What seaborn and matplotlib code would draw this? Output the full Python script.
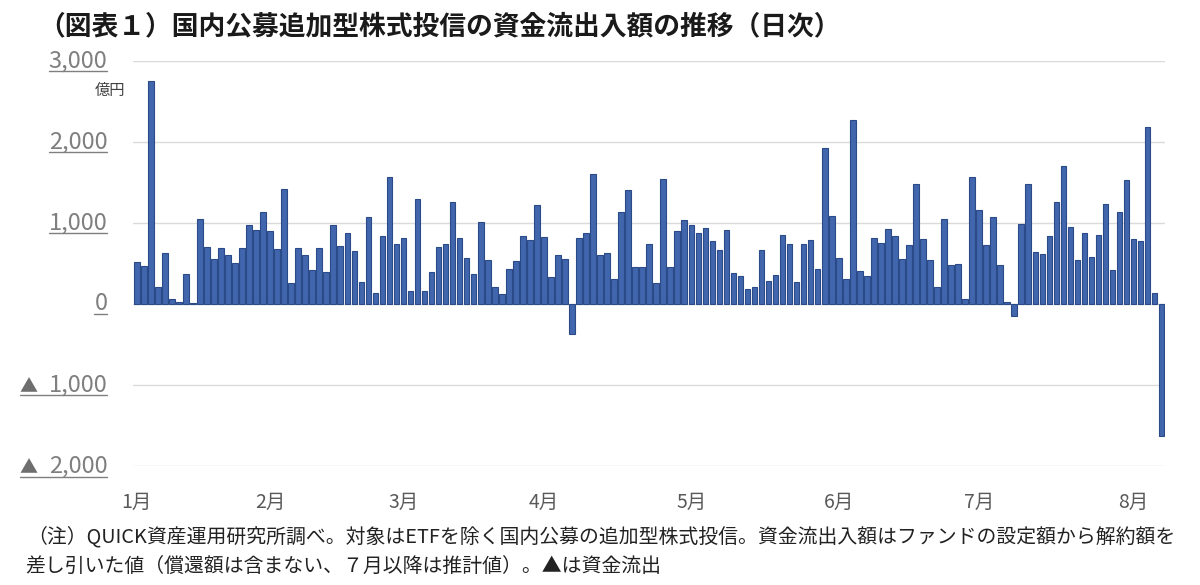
import numpy as np
import pandas as pd
import matplotlib
matplotlib.use("Agg")
import matplotlib.pyplot as plt
from matplotlib.lines import Line2D
import seaborn as sns

# ---- data ----
month_labels = ["1月", "2月", "3月", "4月", "5月", "6月", "7月", "8月"]
month_trading_days = [19, 19, 20, 21, 21, 20, 22, 5]

flows = [
    518, 469, 2754, 205, 633, 66, 20, 374, 5, 1052, 699, 551, 686, 600, 501, 686,
    970, 912, 1138, 900, 674, 1422, 263, 695, 600, 419, 695, 395, 970, 711, 871,
    649, 275, 1069,
    132, 843, 1562, 736, 810, 164, 1295, 164, 390, 699, 740, 1262, 810, 571, 374,
    1011, 543, 205, 119, 436, 526, 843, 785, 1221, 822, 329, 600, 559, -370, 810,
    871, 1603, 600, 629, 312, 1138, 1406,
    456, 456, 740, 255, 1545, 456, 900, 1036, 970, 871, 933, 781, 666, 908, 386,
    341, 189, 214, 670, 288, 353, 855, 740, 271, 740, 793, 432, 1928, 1081, 567,
    312, 2269, 403, 341, 810,
    756, 921, 843, 559, 727, 1476, 797, 543, 205, 1048, 481, 497, 58, 1562, 1159,
    727, 1069, 481, 29, -148, 986, 1476, 637, 612, 843, 1262, 1702, 949, 543, 880,
    584, 855, 1237, 415, 1138, 1533, 797, 773, 2182, 140, -1628,
]

y_ticks = [-2000, -1000, 0, 1000, 2000, 3000]
y_tick_numbers = ["2,000", "1,000", "0", "1,000", "2,000", "3,000"]
y_tick_negative = [True, True, False, False, False, False]

title = "（図表１）国内公募追加型株式投信の資金流出入額の推移（日次）"
unit = "億円"
note1 = "（注）QUICK資産運用研究所調べ。対象はETFを除く国内公募の追加型株式投信。資金流出入額はファンドの設定額から解約額を"
note2 = "差し引いた値（償還額は含まない、７月以降は推計値）。▲は資金流出"

# ---- frame ----
df = pd.DataFrame({"day": np.arange(len(flows)), "flow": flows})
month_start = np.concatenate([[0], np.cumsum(month_trading_days)[:-1]])

sns.set_theme(style="white")
plt.rcParams["font.family"] = ["Noto Sans CJK JP", "DejaVu Sans"]

fig = plt.figure(figsize=(12, 5.85), dpi=100)
ax = fig.add_axes([0.111, 0.2034, 0.860, 0.6928])

sns.barplot(data=df, x="day", y="flow", color="#4266AD", saturation=1,
            width=0.8, edgecolor="#2A4A88", linewidth=0.8, ax=ax)

ax.set_xlim(-0.5, len(flows) - 0.5)
ax.set_ylim(-2000, 3000)
ax.set_yticks(y_ticks)
ax.set_yticklabels([])
ax.set_xticks(month_start)
ax.set_xticklabels(month_labels)
ax.set_xlabel("")
ax.set_ylabel("")

ax.yaxis.grid(True, color="#DADADA", linewidth=1.0)
ax.set_axisbelow(True)
for s in ax.spines.values():
    s.set_visible(False)

ax.tick_params(axis="y", length=0)
ax.tick_params(axis="x", length=0, pad=19, labelsize=14, labelcolor="#595959")

# y tick labels: number (underlined) with a smaller ▲ for negatives
label_color = "#7F7F7F"
trans = ax.get_yaxis_transform()
num_texts = []
for val, num, neg in zip(y_ticks, y_tick_numbers, y_tick_negative):
    t = ax.text(-0.025, val, num, transform=trans, ha="right", va="center",
                fontsize=17, color=label_color)
    num_texts.append((t, neg))

fig.text(0.032, 0.955, title, fontsize=19.3, fontweight="bold", color="#1A1A1A",
         ha="left", va="center")
fig.text(0.104, 0.846, unit, fontsize=11, color="#404040", ha="right", va="center")
fig.text(0.023, 0.082, note1, fontsize=14.3, color="#222222", ha="left", va="center")
fig.text(0.021, 0.032, note2, fontsize=14.3, color="#222222", ha="left", va="center")

fig.canvas.draw()
inv = fig.transFigure.inverted()
for t, neg in num_texts:
    bb = t.get_window_extent()
    x_left = bb.x0
    if neg:
        tri = fig.text(0, 0, "▲", fontsize=13, color="#6E6E6E", ha="right",
                       va="baseline")
        (fx, fy), = inv.transform([(bb.x0 - 11, bb.y0 + 4)])
        tri.set_position((fx, fy))
        fig.canvas.draw()
        x_left = tri.get_window_extent().x0
    (x0, y0), (x1, _) = inv.transform([(x_left, bb.y0 + 1), (bb.x1, bb.y0 + 1)])
    fig.add_artist(Line2D([x0, x1], [y0, y0], transform=fig.transFigure,
                          color=label_color, linewidth=1.0))

fig.savefig("out.png", dpi=100)
